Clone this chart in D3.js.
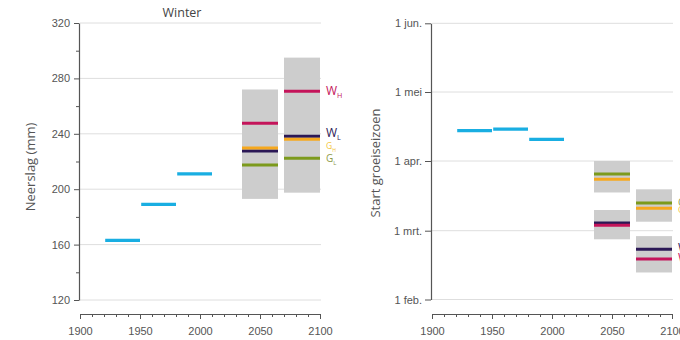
<!DOCTYPE html>
<html>
<head>
<meta charset="utf-8">
<script src="https://cdn.jsdelivr.net/npm/d3@7"></script>
<style>
  body { margin: 0; background: #fff; }
  svg { font-family: "Open Sans", sans-serif; }
  .axis text { fill: #555; font-size: 11px; }
  .axis path, .axis line { stroke: #555; }
</style>
</head>
<body>
<div id="plot"></div>
<script>
// historical periods (cyan bars)
const histPeriods = [[1921, 1950], [1951, 1980], [1981, 2010]];
const winterHist = [163, 189, 211];
const startHist = [104.2, 104.9, 100.4];

// scenario periods (grey boxes)
const scenPeriods = [[2035, 2065], [2070, 2100]];
const scenNames = ["WH", "WL", "GH", "GL"];

// winter precipitation (mm)
const winterBoxLow = [193, 197.5];
const winterBoxHigh = [272, 295];
const winterWH = [247.6, 270.7];
const winterWL = [227.6, 238.2];
const winterGH = [229.7, 236];
const winterGL = [217.5, 222.3];

// start growing season (day of year)
const startGBoxLow = [77, 64];
const startGBoxHigh = [91, 78.4];
const startWBoxLow = [56.5, 43];
const startWBoxHigh = [69.2, 57.8];
const startWH = [62.4, 48.5];
const startWL = [63.4, 52.4];
const startGH = [82.9, 70];
const startGL = [85.2, 72.3];

const monthDays = [32, 60, 91, 121, 152];
const monthLabels = ["1 feb.", "1 mrt.", "1 apr.", "1 mei", "1 jun."];
const yearTicks = [1900, 1950, 2000, 2050, 2100];

const colors = { WH: "#c4145a", WL: "#2b1856", GH: "#f6a81e", GL: "#7c9a1c", hist: "#19aee2" };
const labelColors = { WH: "#c4145a", WL: "#2b1856", GH: "#f2c43a", GL: "#8d9a48" };

const width = 680, height = 340;
const svg = d3.select("div#plot").append("svg")
  .attr("width", width).attr("height", height);

function drawPanel(p) {
  const g = svg.append("g");

  // grid lines
  g.selectAll(".grid").data(p.gridValues).enter().append("line")
    .attr("x1", p.x.range()[0]).attr("x2", p.x.range()[1] + 1)
    .attr("y1", d => p.y(d)).attr("y2", d => p.y(d))
    .attr("stroke", "#dedede").attr("stroke-width", 1);

  // y axis
  const yAxis = g.append("g").attr("class", "axis")
    .attr("transform", "translate(" + (p.x.range()[0] - 1) + ",0)")
    .call(p.yAxis);
  yAxis.select(".domain").attr("stroke-width", 1.2);
  if (p.yMinor) {
    g.append("g").attr("class", "axis")
      .attr("transform", "translate(" + (p.x.range()[0] - 1) + ",0)")
      .call(d3.axisLeft(p.y).tickValues(p.yMinor).tickSize(3).tickFormat(""))
      .select(".domain").remove();
  }

  // x axis (below, detached)
  const xAxisY = 314;
  g.append("g").attr("class", "axis")
    .attr("transform", "translate(0," + xAxisY + ")")
    .call(d3.axisBottom(p.x).tickValues(d3.range(1900, 2101, 10)).tickSize(3).tickSizeOuter(0).tickFormat(""));
  g.append("g").attr("class", "axis")
    .attr("transform", "translate(0," + xAxisY + ")")
    .call(d3.axisBottom(p.x).tickValues(yearTicks).tickSize(5).tickPadding(8).tickFormat(d3.format("d")))
    .select(".domain").remove();

  // grey scenario boxes
  p.boxes.forEach(b => {
    g.selectAll(null).data(scenPeriods).enter().append("rect")
      .attr("x", d => p.x(d[0]))
      .attr("width", d => p.x(d[1]) - p.x(d[0]))
      .attr("y", (d, i) => p.y(b.high[i]))
      .attr("height", (d, i) => p.y(b.low[i]) - p.y(b.high[i]))
      .attr("fill", "#cdcdcd");
  });

  // scenario lines
  p.order.forEach(name => {
    g.selectAll(null).data(scenPeriods).enter().append("line")
      .attr("x1", d => p.x(d[0])).attr("x2", d => p.x(d[1]))
      .attr("y1", (d, i) => p.y(p.scen[name][i]))
      .attr("y2", (d, i) => p.y(p.scen[name][i]))
      .attr("stroke", colors[name]).attr("stroke-width", 3);
  });

  // historical bars
  g.selectAll(null).data(histPeriods).enter().append("line")
    .attr("x1", d => p.x(d[0])).attr("x2", d => p.x(d[1]))
    .attr("y1", (d, i) => p.y(p.hist[i])).attr("y2", (d, i) => p.y(p.hist[i]))
    .attr("stroke", colors.hist).attr("stroke-width", 3.2);

  // scenario labels
  p.labels.forEach(l => {
    const t = g.append("text")
      .attr("x", p.x.range()[1] + 6)
      .attr("y", p.y(l.v))
      .attr("fill", labelColors[l.name])
      .style("font-size", l.size + "px");
    t.append("tspan").text(l.name[0]);
    t.append("tspan").attr("dy", 3).style("font-size", (l.size * 0.6) + "px").text(l.name[1]);
  });

  // y title
  g.append("text")
    .attr("transform", "translate(" + p.titleX + "," + p.titleY + ") rotate(-90)")
    .attr("text-anchor", "middle")
    .attr("fill", "#555")
    .style("font-size", "13px")
    .text(p.yTitle);
}

// left: winter precipitation
const xL = d3.scaleLinear().domain([1900, 2100]).range([80, 320]);
const yL = d3.scaleLinear().domain([120, 320]).range([300, 23]);
drawPanel({
  x: xL, y: yL,
  gridValues: d3.range(120, 321, 40),
  yAxis: d3.axisLeft(yL).tickValues(d3.range(120, 321, 40)).tickSize(5).tickSizeOuter(0).tickPadding(4),
  yMinor: d3.range(140, 320, 40),
  boxes: [{ low: winterBoxLow, high: winterBoxHigh }],
  scen: { WH: winterWH, WL: winterWL, GH: winterGH, GL: winterGL },
  order: ["WH", "WL", "GH", "GL"],
  hist: winterHist,
  labels: [
    { name: "WH", v: 267.8, size: 12 },
    { name: "WL", v: 237.5, size: 12 },
    { name: "GH", v: 229.3, size: 8.5 },
    { name: "GL", v: 219.8, size: 10 }
  ],
  yTitle: "Neerslag (mm)", titleX: 35, titleY: 167
});

svg.append("text")
  .attr("x", 182).attr("y", 16.5)
  .attr("text-anchor", "middle")
  .attr("fill", "#444")
  .style("font-size", "12.5px")
  .text("Winter");

// right: start growing season
const xR = d3.scaleLinear().domain([1900, 2100]).range([432, 672]);
const yR = d3.scaleLinear().domain(monthDays).range([299.5, 230.7, 161, 92, 23.3]);
drawPanel({
  x: xR, y: yR,
  gridValues: monthDays,
  yAxis: d3.axisLeft(yR).tickValues(monthDays).tickSize(6).tickSizeOuter(0).tickPadding(3)
    .tickFormat((d, i) => monthLabels[i]),
  yMinor: null,
  boxes: [{ low: startGBoxLow, high: startGBoxHigh }, { low: startWBoxLow, high: startWBoxHigh }],
  scen: { WH: startWH, WL: startWL, GH: startGH, GL: startGL },
  order: ["GL", "GH", "WL", "WH"],
  hist: startHist,
  labels: [
    { name: "GL", v: 71.2, size: 10 },
    { name: "GH", v: 67.8, size: 8.5 },
    { name: "WL", v: 51.2, size: 12 },
    { name: "WH", v: 47.2, size: 12 }
  ],
  yTitle: "Start groeiseizoen", titleX: 380, titleY: 163
});
</script>
</body>
</html>
